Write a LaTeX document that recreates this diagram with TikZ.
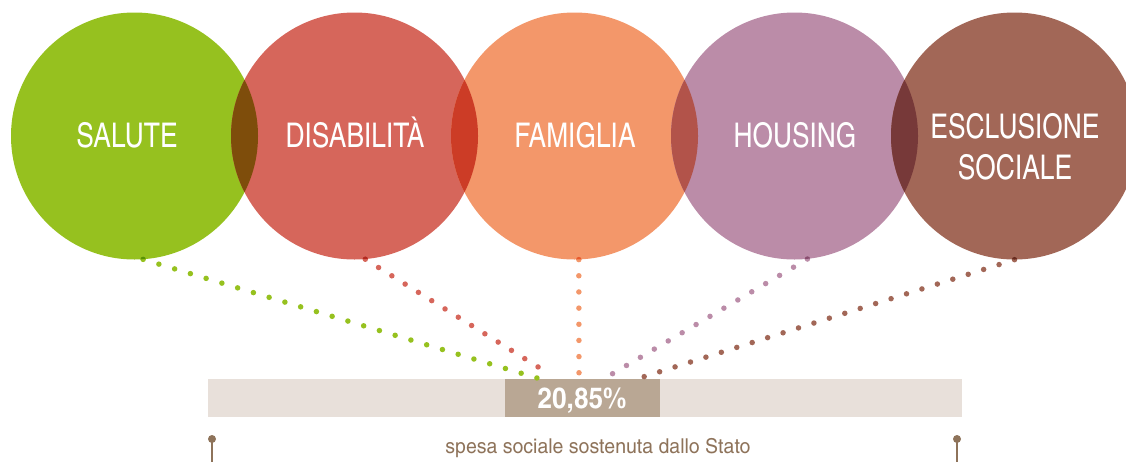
\documentclass[tikz,border=0pt]{standalone}
\usepackage{fontspec}
\setmainfont{texgyreheroscn}[Extension=.otf, UprightFont=*-regular, BoldFont=*-bold, FakeStretch=0.945]
\newfontfamily\capfont{texgyreheroscn}[Extension=.otf, UprightFont=*-regular, BoldFont=*-bold, FakeStretch=1.16]
\newfontfamily\pctfont{texgyreheroscn}[Extension=.otf, UprightFont=*-bold, BoldFont=*-bold, FakeStretch=1.1]
\definecolor{cgreen}{HTML}{96C11F}
\definecolor{cred}{HTML}{D6665B}
\definecolor{corange}{HTML}{F3976A}
\definecolor{cpurple}{HTML}{BB8CA8}
\definecolor{cbrown}{HTML}{A26757}
\definecolor{dgreen}{HTML}{589204}
\definecolor{dred}{HTML}{B42920}
\definecolor{dorange}{HTML}{E8592C}
\definecolor{dpurple}{HTML}{894D6F}
\definecolor{dbrown}{HTML}{672A1E}
\definecolor{lensA}{HTML}{7E4D0B}
\definecolor{lensB}{HTML}{CC3C26}
\definecolor{lensC}{HTML}{B2534A}
\definecolor{lensD}{HTML}{773939}
\definecolor{barlight}{HTML}{E8E0DA}
\definecolor{bardark}{HTML}{B9A794}
\definecolor{txtbrown}{HTML}{8E735A}
\tikzset{
  bubble/.style={circle, minimum size=247pt, inner sep=0pt, draw=none, fill=#1},
  bubbletext/.style={text=white, font=\fontsize{34}{40}\selectfont, anchor=base, align=center},
  dotline/.style 2 args={draw=#1, line width=5.5pt, line cap=round, dash pattern=on 0pt off #2},
  pin/.style={draw=txtbrown, line width=2pt},
  pinhead/.style={circle, fill=txtbrown, minimum size=8pt, inner sep=0pt}
}
\newcommand\edgedot[3]{\begin{scope}\clip (#1.center) circle[radius=123.5pt]; \fill[#3] (#1.#2) circle[radius=2.75pt];\end{scope}}
\begin{document}
\begin{tikzpicture}[x=1pt,y=-1pt]
\useasboundingbox (0,0) rectangle (1126,461);
\clip (0,0) rectangle (1126,461);
% circles
\node[bubble=cgreen]  (c1) at (134.5,136) {};
\node[bubble=cred]    (c2) at (354.5,136) {};
\node[bubble=corange] (c3) at (574.5,136) {};
\node[bubble=cpurple] (c4) at (794.5,136) {};
\node[bubble=cbrown]  (c5) at (1014.5,136) {};
% overlaps
\begin{scope}\clip (c1.center) circle[radius=123.5pt]; \fill[lensA] (c2.center) circle[radius=123.5pt];\end{scope}
\begin{scope}\clip (c2.center) circle[radius=123.5pt]; \fill[lensB] (c3.center) circle[radius=123.5pt];\end{scope}
\begin{scope}\clip (c3.center) circle[radius=123.5pt]; \fill[lensC] (c4.center) circle[radius=123.5pt];\end{scope}
\begin{scope}\clip (c4.center) circle[radius=123.5pt]; \fill[lensD] (c5.center) circle[radius=123.5pt];\end{scope}
% labels
\node[bubbletext] (t1) at (127,147) {SALUTE};
\node[bubbletext] (t2) at (355,147) {DISABILITÀ};
\node[bubbletext] (t3) at (575,147) {FAMIGLIA};
\node[bubbletext] (t4) at (795,147) {HOUSING};
\node[bubbletext] (t5a) at (1015,138) {ESCLUSIONE};
\node[bubbletext] (t5b) at (1015,179) {SOCIALE};
% bar
\node[fill=barlight, minimum width=754pt, minimum height=38pt, inner sep=0pt] (bar) at (585,398) {};
\node[fill=bardark, minimum width=155pt, minimum height=38pt, inner sep=0pt] (pct) at (582.5,398) {};
\node[text=white, font=\pctfont\fontsize{29}{34}\selectfont, anchor=base] (pcttxt) at (582,408) {20,85\%};
% end points of dotted connectors
\coordinate (eg) at (537,378);
\coordinate (er) at (551,375);
\coordinate (eo) at (579,373);
\coordinate (ep) at (612,374);
\coordinate (eb) at (643,377);
\draw[dotline={cgreen}{16.45pt}]  (c1.-86.5) -- (eg);
\draw[dotline={cred}{15.66pt}]    (c2.-85.6) -- (er);
\draw[dotline={corange}{16.16pt}] (c3.-88.8) -- (eo);
\draw[dotline={cpurple}{16.15pt}] (c4.-84) -- (ep);
\draw[dotline={cbrown}{16.18pt}]  (c5.-90) -- (eb);
\edgedot{c1}{-86.5}{dgreen}
\edgedot{c2}{-85.6}{dred}
\edgedot{c3}{-88.8}{dorange}
\edgedot{c4}{-84}{dpurple}
\edgedot{c5}{-90}{dbrown}
% bottom caption and pins
\node[text=txtbrown, font=\capfont\fontsize{20.5}{24}\selectfont, anchor=base] (cap) at (598,453) {spesa sociale sostenuta dallo Stato};
\node[pinhead] (pl) at (212,439) {};
\node[pinhead] (pr) at (957,439) {};
\coordinate (plb) at (212,462);
\coordinate (prb) at (957,462);
\draw[pin] (pl.center) -- (plb);
\draw[pin] (pr.center) -- (prb);
\end{tikzpicture}
\end{document}
